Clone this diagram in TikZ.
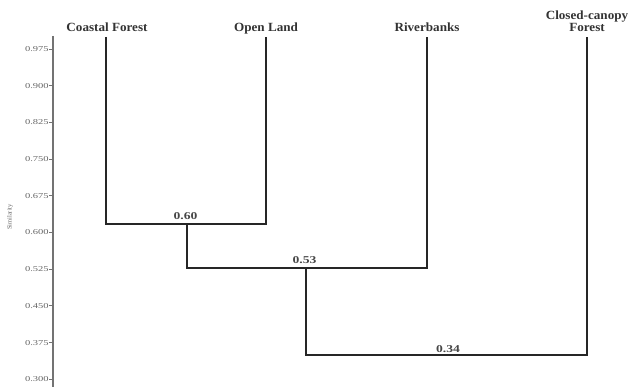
\documentclass[tikz,border=0pt]{standalone}
\usepackage{fontspec}
\setmainfont{Liberation Serif}
\begin{document}
\begin{tikzpicture}[x=1pt,y=-1pt,
  branch/.style={draw=black!85, line width=1.4pt},
  axisline/.style={draw=black!55, line width=1.3pt},
  leaflabel/.style={font=\fontsize{12.5}{12}\selectfont\bfseries, text=black!80, align=center, inner sep=0pt, anchor=base, xscale=1.05},
  simlabel/.style={font=\fontsize{10.5}{11}\selectfont\bfseries, text=black!72, inner sep=0pt, anchor=base, xscale=1.3},
  ticklabel/.style={font=\fontsize{7.5}{8}\selectfont, text=black!60, anchor=east, inner sep=0pt, xscale=1.4}]
\useasboundingbox (0,0) rectangle (637,387);

% similarity axis
\draw[axisline] (53,36) -- (53,387);
\foreach \v [count=\i from 0] in {0.975,0.900,0.825,0.750,0.675,0.600,0.525,0.450,0.375,0.300}{
  \draw[axisline, line width=0.8pt] (49,49+\i*36.7) -- (53,49+\i*36.7);
  \node[ticklabel] at (49,49+\i*36.7) {\v};
}
\node[rotate=90, font=\fontsize{6.5}{7}\selectfont, text=black!60, inner sep=0pt] (axlab) at (10,217) {Similarity};

% leaves
\coordinate (cf) at (106,37);
\coordinate (ol) at (266,37);
\coordinate (rb) at (427,37);
\coordinate (cc) at (587,37);
\node[leaflabel] (cfl) at (107,32) {Coastal Forest};
\node[leaflabel] (oll) at (266,32) {Open Land};
\node[leaflabel] (rbl) at (427,32) {Riverbanks};
\node[leaflabel] (ccl) at (587,32) {Closed-canopy\\Forest};

% merge points
\coordinate (m1l) at (106,224);
\coordinate (m1r) at (266,224);
\coordinate (m1) at (187,224);
\coordinate (m2l) at (187,268);
\coordinate (m2r) at (427,268);
\coordinate (m2) at (306,268);
\coordinate (m3l) at (306,355);
\coordinate (m3r) at (587,355);

% dendrogram branches
\draw[branch] (cf) -- (m1l) -- (m1r) -- (ol);
\draw[branch] (m1) -- (m2l) -- (m2r) -- (rb);
\draw[branch] (m2) -- (m3l) -- (m3r) -- (cc);

% similarity values
\node[simlabel] (s1) at (185.5,220) {0.60};
\node[simlabel] (s2) at (304.5,264) {0.53};
\node[simlabel] (s3) at (448,352) {0.34};
\end{tikzpicture}
\end{document}
